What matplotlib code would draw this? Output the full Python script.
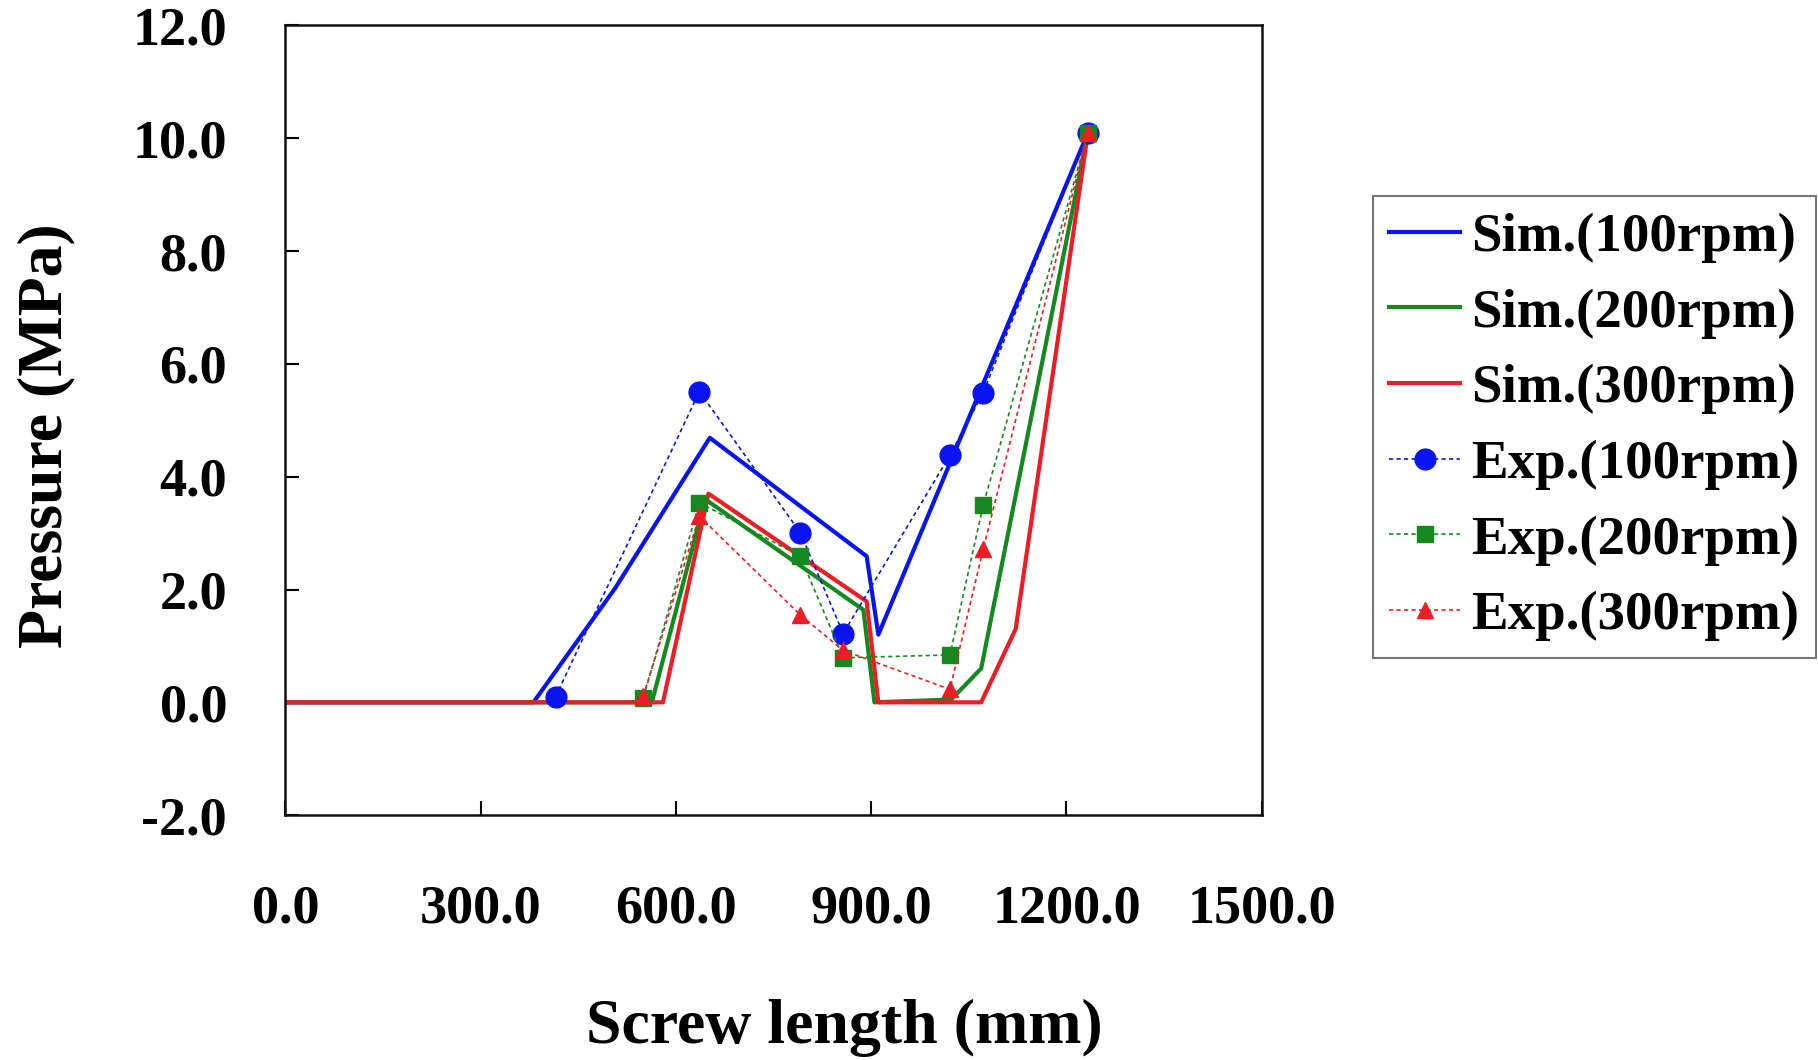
import matplotlib
matplotlib.use("Agg")
import matplotlib.pyplot as plt

# Sim. curves (solid lines)
sim100_x = [0, 381, 507, 652, 893, 911, 1025, 1075, 1233]
sim100_y = [0, 0, 2.03, 4.69, 2.59, 1.20, 4.35, 5.73, 10.1]
sim200_x = [0, 563, 645, 888, 905, 1023, 1069, 1233]
sim200_y = [0, 0, 3.60, 1.64, 0, 0.05, 0.60, 10.1]
sim300_x = [0, 580, 650, 893, 911, 1069, 1122, 1233]
sim300_y = [0, 0, 3.70, 1.79, 0, 0, 1.30, 10.1]

# Exp. points (dotted lines with markers)
exp_x = [415, 636, 791, 857, 1021, 1072, 1233]
exp200_x = [550, 636, 791, 857, 1021, 1072, 1233]
exp100_y = [0.10, 5.51, 3.01, 1.22, 4.38, 5.49, 10.1]
exp200_y = [0.08, 3.54, 2.59, 0.79, 0.84, 3.49, 10.1]
exp300_y = [0.12, 3.30, 1.55, 0.92, 0.23, 2.71, 10.1]

x_ticks = [0, 300, 600, 900, 1200, 1500]
y_ticks = [-2, 0, 2, 4, 6, 8, 10, 12]

blue = "#0a14f0"
green = "#15891f"
red = "#ee1c24"

plt.rcParams['font.family'] = ['Liberation Serif', 'DejaVu Serif']
plt.rcParams['font.weight'] = 'bold'

fig = plt.figure(figsize=(18.18, 10.6), dpi=100)
ax = fig.add_axes([0.157, 0.231, 0.537, 0.745])

ax.plot(sim100_x, sim100_y, color=blue, lw=3, label="Sim.(100rpm)")
ax.plot(sim200_x, sim200_y, color=green, lw=3, label="Sim.(200rpm)")
ax.plot(sim300_x, sim300_y, color=red, lw=3, label="Sim.(300rpm)")
ax.plot(exp_x, exp100_y, color=blue, lw=1.2, ls=(0, (2.5, 2)), marker='o',
        ms=15, mec=blue, mfc=blue, label="Exp.(100rpm)")
ax.plot(exp200_x, exp200_y, color=green, lw=1.2, ls=(0, (2.5, 2)), marker='s',
        ms=11, mec=green, mfc=green, label="Exp.(200rpm)")
ax.plot(exp200_x, exp300_y, color=red, lw=1.2, ls=(0, (2.5, 2)), marker='^',
        ms=12, mec=red, mfc=red, label="Exp.(300rpm)")

ax.set_xlim(0, 1500)
ax.set_ylim(-2, 12)
ax.set_xticks(x_ticks)
ax.set_xticklabels([f"{v:.1f}" for v in x_ticks])
ax.set_yticks(y_ticks)
ax.set_yticklabels([f"{v:.1f}" for v in y_ticks])
ax.tick_params(axis='both', direction='in', length=10, width=1.5, labelsize=39)
ax.tick_params(axis='x', pad=50)
ax.tick_params(axis='y', pad=42)
for s in ax.spines.values():
    s.set_linewidth(1.8)
    s.set_color('#111111')

ax.set_xlabel("Screw length (mm)", fontsize=46, fontweight='bold')
ax.set_ylabel("Pressure (MPa)", fontsize=46, fontweight='bold')
ax.xaxis.label.set_va('center')
ax.yaxis.label.set_va('center')
ax.xaxis.set_label_coords(0.572, -0.27)
ax.yaxis.set_label_coords(-0.245, 0.48)

leg = ax.legend(loc='upper left', bbox_to_anchor=(0.755, 0.815),
                bbox_transform=fig.transFigure, fontsize=39.5, frameon=True,
                fancybox=False, edgecolor='#555555', handlelength=1.3,
                handletextpad=0.2, labelspacing=0.46, borderpad=0.3,
                borderaxespad=0)
leg.get_frame().set_linewidth(1.5)

fig.savefig("out.png", dpi=100)
